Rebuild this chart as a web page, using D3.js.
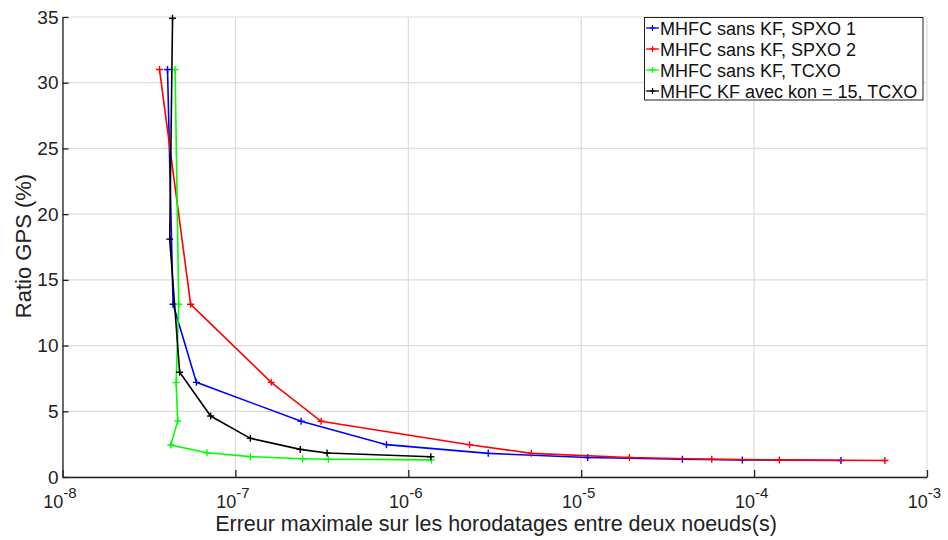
<!DOCTYPE html>
<html><head><meta charset="utf-8">
<script src="https://cdn.jsdelivr.net/npm/d3@7"></script>
<style>body{margin:0;background:#fff;} text{font-family:"Liberation Sans",Arial,sans-serif;}</style>
</head><body><svg id="c" width="948" height="540"></svg>
<script>
const xTicks = [1e-8, 1e-7, 1e-6, 1e-5, 1e-4, 1e-3];
const xTickExp = ["-8", "-7", "-6", "-5", "-4", "-3"];
const yTicks = [0, 5, 10, 15, 20, 25, 30, 35];

const seriesNames = ["MHFC sans KF, SPXO 1", "MHFC sans KF, SPXO 2", "MHFC sans KF, TCXO", "MHFC KF avec kon = 15, TCXO"];
const seriesColors = ["#0000ff", "#ff0000", "#00ff00", "#000000"];

const blueX = [4.05e-8, 4.36e-8, 5.95e-8, 2.40e-7, 7.48e-7, 2.90e-6, 1.09e-5, 3.85e-5, 8.55e-5, 3.18e-4];
const blueY = [31, 13.14, 7.2, 4.24, 2.46, 1.8, 1.48, 1.35, 1.3, 1.26];
const redX = [3.64e-8, 5.51e-8, 1.61e-7, 3.13e-7, 2.26e-6, 5.15e-6, 1.90e-5, 5.69e-5, 1.40e-4, 5.71e-4];
const redY = [31, 13.14, 7.2, 4.24, 2.46, 1.8, 1.48, 1.35, 1.3, 1.26];
const greenX = [4.48e-8, 4.70e-8, 4.54e-8, 4.64e-8, 4.23e-8, 6.85e-8, 1.22e-7, 2.45e-7, 3.45e-7, 1.36e-6];
const greenY = [31, 13.14, 7.18, 4.26, 2.43, 1.85, 1.55, 1.39, 1.35, 1.3];
const blackX = [4.33e-8, 4.17e-8, 4.76e-8, 7.19e-8, 1.22e-7, 2.37e-7, 3.39e-7, 1.35e-6];
const blackY = [34.9, 18.1, 7.97, 4.64, 2.94, 2.1, 1.83, 1.54];

const seriesX = [blueX, redX, greenX, blackX];
const seriesY = [blueY, redY, greenY, blackY];

const L = 62.5, R = 927, T = 17, B = 477;
const svg = d3.select("#c");
const x = d3.scaleLog().domain([1e-8, 1e-3]).range([L, R]);
const y = d3.scaleLinear().domain([0, 35]).range([B, T]);

// grid
svg.append("g").selectAll("line").data(xTicks).join("line")
  .attr("x1", d => x(d)).attr("x2", d => x(d)).attr("y1", T).attr("y2", B)
  .attr("stroke", "#dcdcdc").attr("stroke-width", 1.2);
svg.append("g").selectAll("line").data(yTicks).join("line")
  .attr("x1", L).attr("x2", R).attr("y1", d => y(d)).attr("y2", d => y(d))
  .attr("stroke", "#dcdcdc").attr("stroke-width", 1.2);

// axes
const xAxis = d3.axisBottom(x).tickValues(xTicks).tickSizeInner(-7).tickSizeOuter(0).tickFormat("");
const gx = svg.append("g").attr("transform", `translate(0,${B})`).call(xAxis);
gx.select(".domain").attr("stroke", "#222").attr("stroke-width", 1.3);
gx.selectAll(".tick line").attr("stroke", "#222").attr("stroke-width", 1.3);
const yAxis = d3.axisLeft(y).tickValues(yTicks).tickSizeInner(-6).tickSizeOuter(0).tickFormat("");
const gy = svg.append("g").attr("transform", `translate(${L},0)`).call(yAxis);
gy.select(".domain").attr("stroke", "#222").attr("stroke-width", 1.3);
gy.selectAll(".tick line").attr("stroke", "#222").attr("stroke-width", 1.3);

// y tick labels
svg.append("g").selectAll("text").data(yTicks).join("text")
  .attr("x", L - 4).attr("y", d => y(d) + 6.5).attr("text-anchor", "end")
  .attr("font-size", 19).attr("fill", "#222").text(d => d);

// x tick labels 10^n
const xl = svg.append("g").selectAll("text").data(xTicks).join("text")
  .attr("x", (d) => x(d) - 2.5).attr("y", 508).attr("text-anchor", "middle")
  .attr("font-size", 18).attr("fill", "#222");
xl.append("tspan").text("10");
xl.append("tspan").attr("dy", -10).attr("font-size", 15).text((d, i) => xTickExp[i]);

// axis titles
svg.append("text").attr("x", 496).attr("y", 531).attr("text-anchor", "middle")
  .attr("font-size", 21.5).attr("fill", "#222")
  .text("Erreur maximale sur les horodatages entre deux noeuds(s)");
svg.append("text").attr("transform", "translate(31,246) rotate(-90)").attr("text-anchor", "middle")
  .attr("font-size", 22).attr("fill", "#222").text("Ratio GPS (%)");

// series
const line = d3.line().x(d => x(d[0])).y(d => y(d[1]));
const plusPath = "M-3.5,0H3.5M0,-3.5V3.5";
seriesX.forEach((xs, i) => {
  const pts = xs.map((v, j) => [v, seriesY[i][j]]);
  svg.append("path").datum(pts).attr("d", line).attr("fill", "none")
    .attr("stroke", seriesColors[i]).attr("stroke-width", 1.6);
  svg.append("g").selectAll("path").data(pts).join("path")
    .attr("transform", d => `translate(${x(d[0])},${y(d[1])})`)
    .attr("d", plusPath).attr("stroke", seriesColors[i]).attr("stroke-width", 1.4);
});

// legend
const lg = svg.append("g");
lg.append("rect").attr("x", 644.5).attr("y", 17.5).attr("width", 278.5).attr("height", 82.5)
  .attr("fill", "#fff").attr("stroke", "#222").attr("stroke-width", 1);
seriesNames.forEach((n, i) => {
  const cy = 28 + i * 21;
  lg.append("line").attr("x1", 646).attr("x2", 659).attr("y1", cy).attr("y2", cy)
    .attr("stroke", seriesColors[i]).attr("stroke-width", 1.3);
  lg.append("path").attr("transform", `translate(652.5,${cy})`).attr("d", "M-3,0H3M0,-3V3")
    .attr("stroke", seriesColors[i]).attr("stroke-width", 1.2);
  lg.append("text").attr("x", 660).attr("y", cy + 6.5).attr("font-size", 18).attr("fill", "#111").text(n);
});
</script></body></html>
